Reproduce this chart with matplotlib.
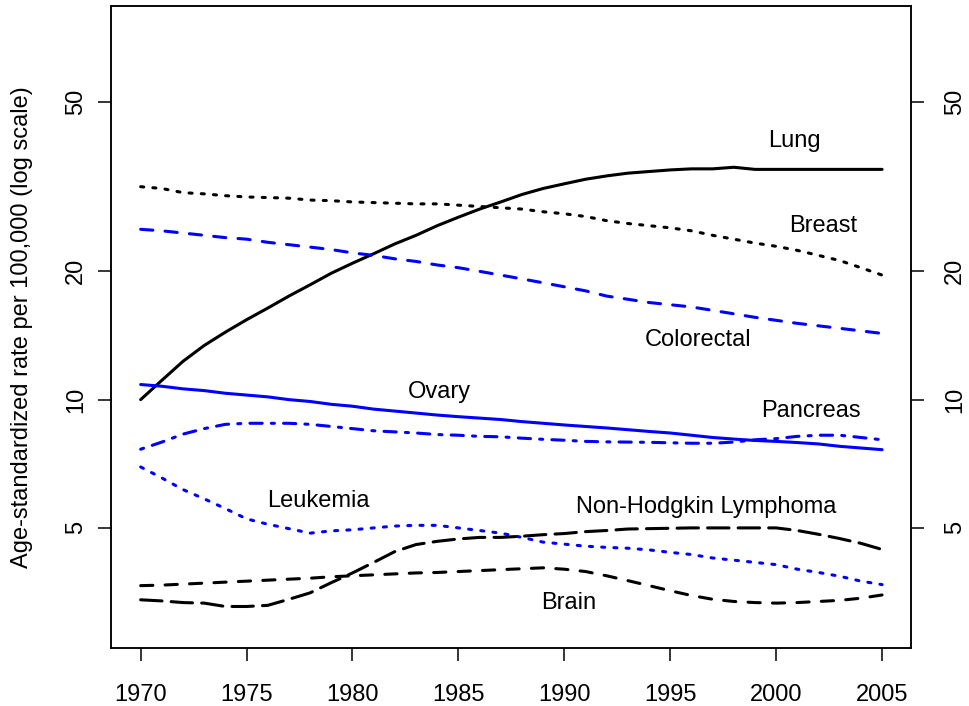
import matplotlib
matplotlib.use("Agg")
import matplotlib.pyplot as plt
from matplotlib.ticker import FixedLocator, FixedFormatter, NullLocator

plt.rcParams['font.family'] = ['Liberation Sans', 'DejaVu Sans']

years = list(range(1970, 2006))

lung = [10.0, 11.1, 12.3, 13.4, 14.4, 15.4, 16.4, 17.5, 18.6, 19.8, 20.9, 22.0, 23.2, 24.3,
        25.6, 26.8, 28.0, 29.1, 30.3, 31.3, 32.1, 32.9, 33.5, 34.0, 34.3, 34.6, 34.8, 34.8,
        35.1, 34.7, 34.7, 34.7, 34.7, 34.7, 34.7, 34.7]
breast = [31.6, 31.3, 30.6, 30.4, 30.1, 29.9, 29.8, 29.7, 29.4, 29.3, 29.1, 29.0, 28.9, 28.8,
          28.8, 28.6, 28.4, 28.2, 28.0, 27.6, 27.3, 26.9, 26.3, 25.9, 25.6, 25.3, 24.9, 24.3,
          23.8, 23.3, 22.9, 22.4, 21.8, 21.2, 20.4, 19.6]
colorectal = [25.1, 24.9, 24.6, 24.3, 24.0, 23.8, 23.4, 23.1, 22.8, 22.5, 22.1, 21.8, 21.4, 21.1,
              20.7, 20.4, 20.0, 19.6, 19.2, 18.8, 18.4, 18.0, 17.5, 17.2, 16.9, 16.7, 16.5, 16.2,
              15.9, 15.6, 15.35, 15.1, 14.9, 14.7, 14.5, 14.3]
ovary = [10.85, 10.75, 10.6, 10.5, 10.35, 10.25, 10.15, 10.0, 9.9, 9.75, 9.65, 9.5, 9.4, 9.3,
         9.2, 9.12, 9.05, 8.98, 8.88, 8.8, 8.72, 8.65, 8.58, 8.5, 8.42, 8.35, 8.25, 8.15,
         8.08, 8.02, 7.98, 7.93, 7.87, 7.77, 7.7, 7.63]
pancreas = [7.65, 7.95, 8.3, 8.55, 8.75, 8.8, 8.8, 8.8, 8.75, 8.65, 8.55, 8.45, 8.4, 8.35,
            8.28, 8.25, 8.2, 8.18, 8.12, 8.07, 8.03, 7.98, 7.96, 7.95, 7.94, 7.92, 7.9, 7.9,
            7.95, 8.05, 8.1, 8.2, 8.25, 8.25, 8.15, 8.05]
leukemia = [6.95, 6.55, 6.15, 5.85, 5.55, 5.25, 5.1, 4.98, 4.86, 4.92, 4.95, 5.0, 5.05, 5.07,
            5.07, 5.0, 4.93, 4.86, 4.75, 4.63, 4.58, 4.53, 4.5, 4.48, 4.44, 4.38, 4.33, 4.25,
            4.2, 4.15, 4.1, 4.0, 3.93, 3.85, 3.75, 3.68]
nhl = [3.39, 3.37, 3.34, 3.33, 3.27, 3.27, 3.29, 3.4, 3.52, 3.72, 3.92, 4.15, 4.4, 4.57,
       4.65, 4.71, 4.75, 4.75, 4.78, 4.82, 4.85, 4.9, 4.93, 4.97, 4.98, 4.99, 5.0, 5.0,
       5.0, 5.0, 5.0, 4.93, 4.83, 4.72, 4.6, 4.45]
brain = [3.66, 3.67, 3.69, 3.71, 3.73, 3.75, 3.77, 3.79, 3.81, 3.84, 3.86, 3.88, 3.9, 3.92,
         3.93, 3.95, 3.97, 3.99, 4.01, 4.03, 4.0, 3.95, 3.86, 3.76, 3.66, 3.56, 3.47, 3.4,
         3.36, 3.34, 3.33, 3.34, 3.36, 3.38, 3.42, 3.48]

labels = ["Lung", "Breast", "Colorectal", "Ovary", "Pancreas", "Leukemia",
          "Non-Hodgkin Lymphoma", "Brain"]
label_x = [2000.85, 2002.2, 1996.3, 1984.1, 2001.65, 1978.4, 1996.7, 1990.2]
label_y = [40.5, 25.5, 13.8, 10.4, 9.4, 5.78, 5.6, 3.34]

xticks = [1970, 1975, 1980, 1985, 1990, 1995, 2000, 2005]
yticks = [5, 10, 20, 50]
ytick_labels = ["5", "10", "20", "50"]

W, H = 970, 706
FS = 17
fig = plt.figure(figsize=(W / 100, H / 100), dpi=100)
ax = fig.add_axes([111 / W, 1 - 647.5 / H, (910.7 - 111) / W, (647.5 - 6) / H])

blue = "#0000FF"
lw = 2.2
styles = [
    (lung, "black", None),
    (breast, "black", (1, 3)),
    (colorectal, blue, (4, 4)),
    (ovary, blue, None),
    (pancreas, blue, (1, 3, 4, 3)),
    (leukemia, blue, (1, 3)),
    (nhl, "black", (7, 3)),
    (brain, "black", (4, 4)),
]
for vals, col, dash in styles:
    line, = ax.plot(years, vals, color=col, lw=lw, solid_capstyle='round',
                    dash_capstyle='round')
    if dash is not None:
        line.set_dashes(dash)

for t, x, y in zip(labels, label_x, label_y):
    ax.text(x, y, t, ha='center', va='center', fontsize=FS)

xlim = (1968.6, 2006.35)
ylim = (2.62, 83.9)


def setup_y(a):
    a.set_yscale('log')
    a.set_ylim(*ylim)
    a.yaxis.set_major_locator(FixedLocator(yticks))
    a.yaxis.set_major_formatter(FixedFormatter(ytick_labels))
    a.yaxis.set_minor_locator(NullLocator())


setup_y(ax)
ax.set_xlim(*xlim)
ax.xaxis.set_major_locator(FixedLocator(xticks))
ax.xaxis.set_minor_locator(NullLocator())

for s in ax.spines.values():
    s.set_linewidth(1.1)

ax.tick_params(axis='x', length=9.4, width=1.1, pad=16.8, labelsize=FS)
ax.tick_params(axis='y', length=9.4, width=1.1, labelsize=FS, pad=8,
               left=True, right=False, labelleft=True, labelright=False,
               labelrotation=90)
for lab in ax.get_yticklabels():
    lab.set_verticalalignment('center')

ax2 = ax.twinx()
setup_y(ax2)
for s in ax2.spines.values():
    s.set_linewidth(1.1)
ax2.tick_params(axis='y', length=9.4, width=1.1, labelsize=FS, pad=14.5,
                left=False, right=True, labelleft=False, labelright=True,
                labelrotation=90)
for lab in ax2.get_yticklabels():
    lab.set_verticalalignment('center')

fig.text(22 / W, 1 - 327.5 / H, "Age-standardized rate per 100,000 (log scale)",
         rotation=90, ha='center', va='center', fontsize=FS)

fig.savefig("out.png", dpi=100)
